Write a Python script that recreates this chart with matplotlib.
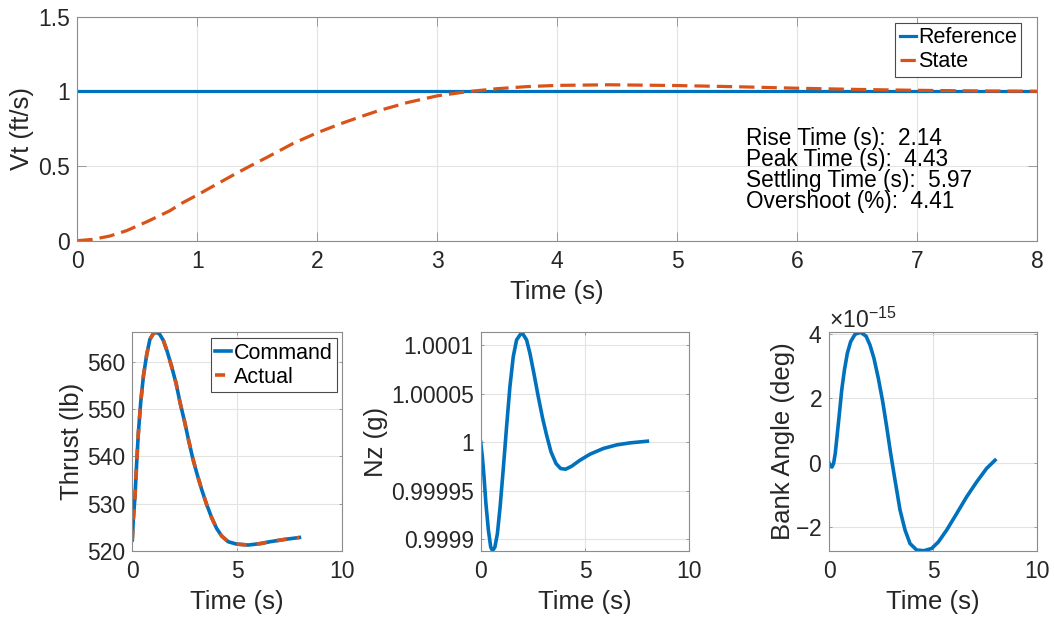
import numpy as np
import matplotlib
matplotlib.use("Agg")
import matplotlib.pyplot as plt
from matplotlib.ticker import ScalarFormatter, FormatStrFormatter

plt.rcParams["font.family"] = ["Liberation Sans", "DejaVu Sans"]
plt.rcParams["axes.unicode_minus"] = False
plt.rcParams["mathtext.fontset"] = "custom"
plt.rcParams["mathtext.rm"] = "Liberation Sans"

blue = "#0072BD"
orange = "#D95319"
txt = "#262626"
edge = "#8c8c8c"
gridc = "#e3e3e3"

# velocity step response
t_state = [0, 0.13, 0.27, 0.41, 0.58, 0.77, 0.88, 1.0, 1.16, 1.3, 1.44, 1.58,
           1.8, 2.0, 2.19, 2.36, 2.5, 2.75, 3.0, 3.25, 3.5, 3.75, 4.0, 4.43,
           5.0, 5.5, 6.0, 6.5, 7.0, 7.5, 8.0]
vt_state = [0, 0.009, 0.031, 0.067, 0.127, 0.2, 0.255, 0.306, 0.378, 0.44, 0.5,
            0.558, 0.652, 0.723, 0.782, 0.83, 0.868, 0.925, 0.97, 0.998, 1.018,
            1.032, 1.040, 1.0441, 1.039, 1.031, 1.021, 1.013, 1.007, 1.003, 1.001]
t_ref = [0, 8]
vt_ref = [1, 1]

rise_time = 2.14
peak_time = 4.43
settling_time = 5.97
overshoot = 4.41

# thrust command / actual
t_thrust = [0, 0.05, 0.13, 0.21, 0.29, 0.40, 0.53, 0.69, 0.84, 1.0, 1.12, 1.29,
            1.48, 1.67, 1.88, 2.09, 2.28, 2.49, 2.68, 2.88, 3.07, 3.31, 3.55,
            3.79, 4.03, 4.27, 4.58, 4.98, 5.54, 6.1, 6.57, 7.29, 7.98]
thrust = [522.3, 526.7, 531.6, 538.7, 545.0, 551.4, 557.0, 561.6, 564.8, 566.0,
          566.3, 566.0, 564.6, 562.2, 559.0, 555.5, 551.4, 547.5, 543.6, 539.7,
          536.6, 533.0, 529.8, 527.0, 524.7, 523.1, 521.9, 521.4, 521.2, 521.5,
          521.9, 522.4, 522.8]

# normal load factor, deviation from 1 g in units of 1e-4 g
t_nz = [0, 0.08, 0.16, 0.25, 0.37, 0.48, 0.57, 0.68, 0.80, 0.93, 1.09, 1.24,
        1.40, 1.56, 1.72, 1.97, 2.20, 2.36, 2.55, 2.76, 2.97, 3.16, 3.37, 3.61,
        3.83, 4.07, 4.36, 4.76, 5.24, 5.88, 6.52, 7.16, 7.99]
nz_dev = [0, -0.152, -0.359, -0.634, -0.91, -1.083, -1.12, -1.083, -0.945,
          -0.669, -0.255, 0.158, 0.572, 0.882, 1.055, 1.134, 1.055, 0.917, 0.71,
          0.469, 0.245, 0.072, -0.1, -0.22, -0.272, -0.279, -0.248, -0.186,
          -0.124, -0.065, -0.028, -0.007, 0.01]
nz = [1 + d * 1e-4 for d in nz_dev]

# bank angle (numerical noise level, 1e-15 deg)
t_bank = [0, 0.06, 0.14, 0.22, 0.30, 0.40, 0.5, 0.61, 0.74, 0.88, 1.04, 1.25,
          1.52, 1.78, 1.97, 2.16, 2.37, 2.58, 2.77, 2.96, 3.17, 3.41, 3.65,
          3.89, 4.21, 4.56, 4.93, 5.25, 5.65, 6.13, 6.61, 7.09, 7.57, 7.97]
bank_e15 = [0, -0.1, -0.13, -0.02, 0.29, 0.91, 1.53, 2.25, 2.87, 3.39, 3.75,
            3.98, 4.04, 3.92, 3.64, 3.23, 2.61, 1.89, 1.11, 0.29, -0.54, -1.46,
            -2.08, -2.5, -2.7, -2.72, -2.65, -2.45, -2.08, -1.57, -1.05, -0.59,
            -0.17, 0.08]
bank = [b * 1e-15 for b in bank_e15]

W, H = 1054, 623
fig = plt.figure(figsize=(W / 100, H / 100), dpi=100)

TICK_FS = 16.5
LABEL_FS = 18.5


def px_axes(x0, y0, x1, y1):
    return fig.add_axes([x0 / W, 1 - y1 / H, (x1 - x0) / W, (y1 - y0) / H])


def style(ax, ticklen):
    ax.grid(True, color=gridc, linewidth=0.8)
    ax.set_axisbelow(True)
    for s in ax.spines.values():
        s.set_color(edge)
        s.set_linewidth(0.8)
    ax.tick_params(direction="in", length=ticklen, width=0.6, color=edge,
                   labelcolor=txt, labelsize=TICK_FS, top=True, right=True)
    ax.tick_params(axis="x", pad=7)
    ax.tick_params(axis="y", pad=5)


def leg(ax, anchor):
    lg = ax.legend(loc="upper right", bbox_to_anchor=anchor, borderaxespad=0,
                   fontsize=15.5, frameon=True, fancybox=False, framealpha=1,
                   handlelength=0.75, handletextpad=0.1, labelspacing=0.15,
                   borderpad=0.2)
    lg.get_frame().set_edgecolor("#4a4a4a")
    lg.get_frame().set_linewidth(0.8)
    for t in lg.get_texts():
        t.set_color("black")


# top: velocity response
ax = px_axes(77.3, 16.7, 1037.3, 240.7)
ax.plot(t_ref, vt_ref, color=blue, lw=2.3, label="Reference")
ax.plot(t_state, vt_state, color=orange, lw=2.3, dashes=(4.8, 2.2), label="State")
ax.set_xlim(0, 8)
ax.set_ylim(0, 1.5)
ax.set_yticks([0, 0.5, 1, 1.5])
ax.yaxis.set_major_formatter(FormatStrFormatter("%g"))
style(ax, 6.5)
ax.set_xlabel("Time (s)", fontsize=LABEL_FS, color=txt, labelpad=5)
ax.set_ylabel("Vt (ft/s)", fontsize=LABEL_FS, color=txt, labelpad=3)
leg(ax, (0.983, 0.973))

lines = [f"Rise Time (s):  {rise_time:.2f}",
         f"Peak Time (s):  {peak_time:.2f}",
         f"Settling Time (s):  {settling_time:.2f}",
         f"Overshoot (%):  {overshoot:.2f}"]
for i, s in enumerate(lines):
    ax.text(5.57, 0.64 - i * 0.141, s, fontsize=16.3, color="black",
            va="baseline", ha="left")

# bottom left: thrust
ax1 = px_axes(132.3, 332.3, 341.7, 550.7)
ax1.plot(t_thrust, thrust, color=blue, lw=2.6, label="Command")
ax1.plot(t_thrust, thrust, color=orange, lw=2.6, dashes=(2.8, 2.8), label="Actual")
ax1.set_xlim(0, 10)
ax1.set_ylim(520, max(thrust))
ax1.set_xticks([0, 5, 10])
ax1.set_yticks([520, 530, 540, 550, 560])
style(ax1, 2.5)
ax1.set_xlabel("Time (s)", fontsize=LABEL_FS, color=txt, labelpad=5)
ax1.set_ylabel("Thrust (lb)", fontsize=LABEL_FS, color=txt, labelpad=2)
leg(ax1, (0.976, 0.973))

# bottom middle: Nz
ax2 = px_axes(480.7, 332.3, 689.3, 550.7)
ax2.plot(t_nz, nz, color=blue, lw=2.6)
ax2.set_xlim(0, 10)
ax2.set_ylim(min(nz), max(nz))
ax2.set_xticks([0, 5, 10])
nz_ticks = [0.9999, 0.99995, 1.0, 1.00005, 1.0001]
ax2.set_yticks(nz_ticks)
ax2.set_yticklabels(["0.9999", "0.99995", "1", "1.00005", "1.0001"])
style(ax2, 2.5)
ax2.set_xlabel("Time (s)", fontsize=LABEL_FS, color=txt, labelpad=5)
ax2.set_ylabel("Nz (g)", fontsize=LABEL_FS, color=txt, labelpad=2)

# bottom right: bank angle
ax3 = px_axes(829.0, 332.3, 1037.3, 550.7)
ax3.plot(t_bank, bank, color=blue, lw=2.6)
ax3.set_xlim(0, 10)
ax3.set_ylim(min(bank), max(bank))
ax3.set_xticks([0, 5, 10])
ax3.set_yticks([-2e-15, 0, 2e-15, 4e-15])
fmt = ScalarFormatter(useMathText=True)
fmt.set_powerlimits((-3, 3))
ax3.yaxis.set_major_formatter(fmt)
style(ax3, 2.5)
ax3.yaxis.get_offset_text().set_fontsize(TICK_FS)
ax3.yaxis.get_offset_text().set_color(txt)
ax3.set_xlabel("Time (s)", fontsize=LABEL_FS, color=txt, labelpad=5)
ax3.set_ylabel("Bank Angle (deg)", fontsize=LABEL_FS, color=txt, labelpad=0.5)

fig.savefig("out.png", dpi=100)
